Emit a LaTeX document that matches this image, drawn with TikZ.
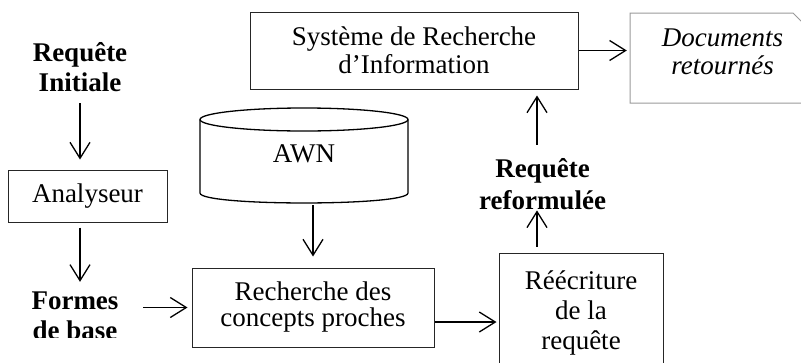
\documentclass[tikz,border=0pt]{standalone}
\usepackage{fontspec}
\setmainfont{Liberation Serif}
\usetikzlibrary{arrows.meta}
\begin{document}
\begin{tikzpicture}[x=1pt,y=-1pt]
\tikzset{
  base/.style={font=\fontsize{27}{29}\selectfont, inner sep=0pt, align=center},
  boxn/.style={base, draw=black!85, line width=1pt},
  lbl/.style={base, font=\fontsize{27}{30}\selectfont\bfseries},
  arr/.style={line width=1.3pt, -{Straight Barb[length=16pt,width=20pt,line width=1.3pt]}},
  cyl/.style={line width=1.3pt, draw=black},
  docline/.style={draw=black!40, line width=1pt},
}
\useasboundingbox (0,0) rectangle (801,362);
\clip (0,0) rectangle (801,362);

% nodes
\node[lbl] (reqinit) at (80,67.5) {Requête\\Initiale};
\node[boxn, minimum width=159pt, minimum height=52pt] (analyseur) at (87.5,196) {Analyseur};
\begin{scope}
  \clip (0,0) rectangle (200,337);
  \node[lbl] (formes) at (75,316) {Formes\\de base};
\end{scope}
\node[boxn, minimum width=242pt, minimum height=79pt, font=\fontsize{27}{26}\selectfont] (recherche) at (313,307.5) {Recherche des\\concepts proches};
\node[boxn, minimum width=164pt, minimum height=119pt, font=\fontsize{27}{30}\selectfont] (reecr) at (581,312.5) {Réécriture\\de la\\requête};
\node[lbl, font=\fontsize{27}{32}\selectfont\bfseries] (reqref) at (542.5,184.5) {Requête\\reformulée};
\node[boxn, minimum width=328pt, minimum height=77pt, font=\fontsize{27}{28}\selectfont] (sri) at (414,50.5) {Système de Recherche\\d’Information};
\node[base, minimum width=185pt, font=\fontsize{27}{28}\selectfont\itshape] (docs) at (722.5,52) {Documents\\retournés};
\node[base, minimum width=208pt, minimum height=95pt] (awn) at (304,155.5) {\raisebox{3.5pt}{AWN}};

% documents outline (folded corner)
\draw[docline] (630,13) -- (793,13) -- (815,35) -- (815,103) -- (630,103) -- cycle;

% cylinder
\draw[cyl] (304,119.5) ellipse [x radius=104, y radius=11.5];
\draw[cyl] (200,119.5) -- (200,193) .. controls (200,206.3) and (408,206.3) .. (408,193) -- (408,119.5);

% connectors
\draw[arr, shorten <=11pt, shorten >=10pt] (reqinit.south) -- (reqinit.south |- analyseur.north);
\draw[arr, shorten <=5pt, shorten >=10pt] (analyseur.south -| reqinit.south) -- (formes.north -| reqinit.south);
\draw[arr, shorten <=24.5pt, shorten >=4pt] (formes.east |- recherche.west) -- (recherche.west);
\draw[arr, shorten <=2pt, shorten >=11pt] (awn.south -| recherche.north) -- (recherche.north);
\draw[arr, shorten >=2pt] ([yshift=-14.5pt]recherche.east) -- ([yshift=-14.5pt]recherche.east -| reecr.west);
\draw[arr, shorten <=6pt] ([xshift=-44pt]reecr.north) -- ([xshift=-44pt]reecr.north |- reqref.south);
\draw[arr, shorten <=14pt, shorten >=6pt] ([xshift=-5.5pt]reqref.north) -- ([xshift=-5.5pt]reqref.north |- sri.south);
\draw[arr, shorten >=3pt] (sri.east) -- (docs.west |- sri.east);
\end{tikzpicture}
\end{document}
